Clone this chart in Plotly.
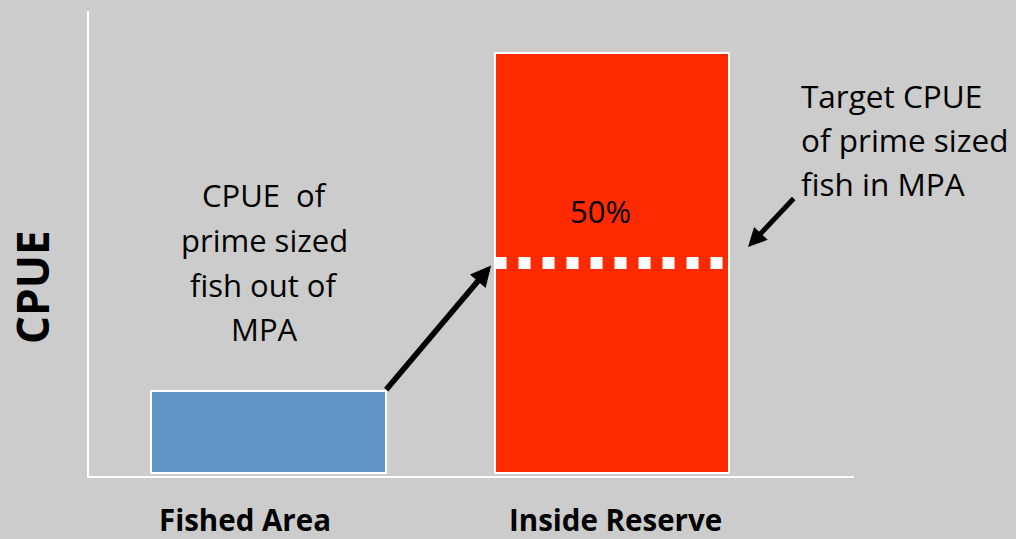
import plotly.graph_objects as go

# ---- data ----
categories = ["Fished Area", "Inside Reserve"]
cat_pos = [0, 1]
cpue_values = [19.5, 100]          # relative CPUE (reserve = 100)
bar_colors = ["#6195C8", "#FF2A00"]
target_pct = 50                    # target CPUE as % of reserve CPUE
left_note = ["CPUE  of", "prime sized", "fish out of", "MPA"]
right_note = ["Target CPUE", "of prime sized", "fish in MPA"]
pct_label = "50%"
y_title = "CPUE"

# ---- layout geometry (pixels) ----
W, H = 1016, 539
L, R, T, B = 89, 854, 11, 476
pw, ph = R - L, B - T
bar_w = 0.684
x_range = [-0.5226, 1.7045]
y_range = [-0.714, 110]

BG = "#CCCCCC"
FONT = "Open Sans"


def px(x):
    return (x - L) / pw


def py(y):
    return (B - y) / ph


fig = go.Figure()
fig.add_trace(go.Bar(
    x=cat_pos, y=cpue_values, width=bar_w,
    marker=dict(color=bar_colors, line=dict(color="white", width=2)),
    showlegend=False, hoverinfo="skip",
))

target_y = cpue_values[1] * target_pct / 100
fig.add_trace(go.Scatter(
    x=[cat_pos[1] - bar_w / 2, cat_pos[1] + bar_w / 2],
    y=[target_y, target_y],
    mode="lines",
    line=dict(color="white", width=12, dash="dot"),
    showlegend=False, hoverinfo="skip",
))

ann = []
# left multi-line note
for i, t in enumerate(left_note):
    ann.append(dict(text=t, xref="paper", yref="paper", x=px(264), y=py(195 + 44.8 * i),
                    xanchor="center", yanchor="middle", showarrow=False,
                    font=dict(family=FONT, size=31, color="black")))
# right multi-line note
for i, t in enumerate(right_note):
    ann.append(dict(text=t, xref="paper", yref="paper", x=px(799), y=py(96 + 43.5 * i),
                    xanchor="left", yanchor="middle", showarrow=False,
                    font=dict(family=FONT, size=31.5, color="black")))
# 50% label
ann.append(dict(text=pct_label, xref="paper", yref="paper", x=px(600), y=py(211),
                xanchor="center", yanchor="middle", showarrow=False,
                font=dict(family=FONT, size=31, color="black")))
# category labels
for t, xc in zip(categories, [245, 615]):
    ann.append(dict(text="<b>%s</b>" % t, xref="paper", yref="paper", x=px(xc), y=py(519),
                    xanchor="center", yanchor="middle", showarrow=False,
                    font=dict(family=FONT, size=29.5, color="black")))
# y title
ann.append(dict(text="<b>%s</b>" % y_title, xref="paper", yref="paper", x=px(32), y=py(287),
                xanchor="center", yanchor="middle", showarrow=False, textangle=-90,
                font=dict(family=FONT, size=44, color="black")))
# arrow from fished bar top to target line
ann.append(dict(text="", x=cat_pos[1] - bar_w / 2 - 0.01, y=target_y - 0.6,
                ax=cat_pos[0] + bar_w / 2 - 0.003, ay=cpue_values[0],
                xref="x", yref="y", axref="x", ayref="y",
                showarrow=True, arrowhead=2, arrowsize=0.75, arrowwidth=5.5,
                arrowcolor="black"))
# arrow pointing to target line from right note
ann.append(dict(text="", x=cat_pos[1] + bar_w / 2 + 0.054, y=target_y + 3.8,
                ax=cat_pos[1] + bar_w / 2 + 0.191, ay=target_y + 15.7,
                xref="x", yref="y", axref="x", ayref="y",
                showarrow=True, arrowhead=2, arrowsize=0.75, arrowwidth=5,
                arrowcolor="black"))

fig.update_layout(
    width=W, height=H,
    margin=dict(l=L, r=W - R, t=T, b=H - B, pad=0),
    paper_bgcolor=BG, plot_bgcolor=BG,
    xaxis=dict(range=x_range, showline=True, linecolor="white", linewidth=2,
               showgrid=False, zeroline=False, showticklabels=False, ticks=""),
    yaxis=dict(range=y_range, showline=True, linecolor="white", linewidth=2,
               showgrid=False, zeroline=False, showticklabels=False, ticks=""),
    annotations=ann,
    bargap=0,
)

fig.write_html(
    "out.html",
    config={"displayModeBar": False},
    post_script="document.body.style.margin='0';document.body.style.background='%s';" % BG,
)
